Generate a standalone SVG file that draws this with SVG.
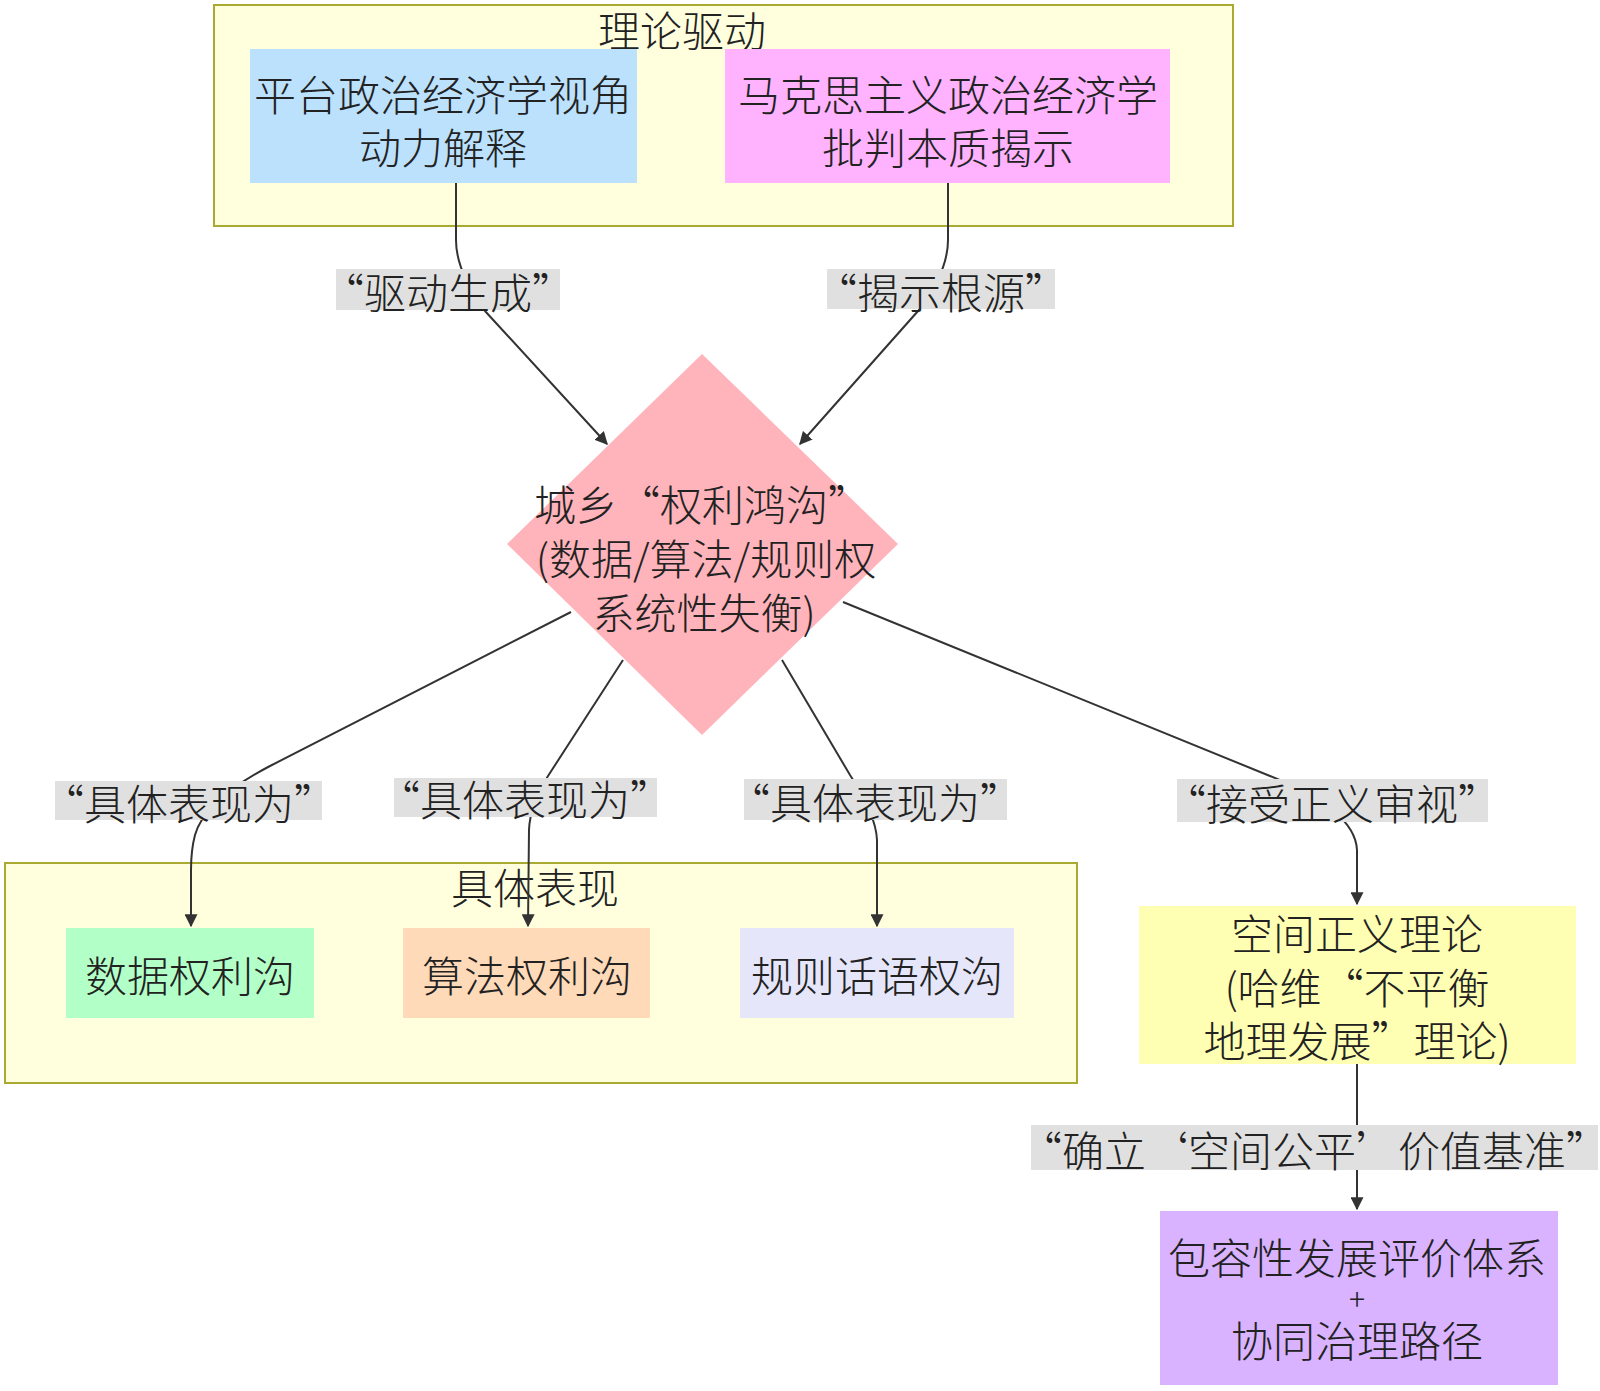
<svg xmlns="http://www.w3.org/2000/svg" width="1600" height="1391" viewBox="0 0 1600 1391">
<defs>
<style>
text{font-family:"Noto Sans CJK SC","Noto Sans",sans-serif;font-size:42px;font-weight:300;fill:#222;text-anchor:middle;dominant-baseline:central}
.plus{font-size:30px}
.cluster{fill:#ffffde;stroke:#aaaa33;stroke-width:2}
.edge{fill:none;stroke:#333;stroke-width:2}
.lbl{fill:#e0e0e0}
</style>
<marker id="arr" viewBox="0 0 10 10" refX="9" refY="5" markerWidth="13" markerHeight="13" markerUnits="userSpaceOnUse" orient="auto">
<path d="M0,0 L10,5 L0,10 z" fill="#333"/>
</marker>
</defs>
<rect width="1600" height="1391" fill="#fff"/>
<g id="cluster-theory">
<rect class="cluster" x="214" y="5" width="1019" height="221"/>
<text x="682" y="28">理论驱动</text>
</g>
<g id="cluster-manifest">
<rect class="cluster" x="5" y="863" width="1072" height="220"/>
<text x="535" y="885">具体表现</text>
</g>
<g id="connectors">
<path class="edge" d="M456,183 L456,240 C456,262 466,285 485,311 L607,444" marker-end="url(#arr)"/>
<path class="edge" d="M948,183 L948,240 C948,262 938,285 918,311 L800,444" marker-end="url(#arr)"/>
<path class="edge" d="M571,612 L270,766 Q205,800 195,835 Q191,850 191,870 L191,926" marker-end="url(#arr)"/>
<path class="edge" d="M623,660 L548,776 Q530,805 529,830 L528,926" marker-end="url(#arr)"/>
<path class="edge" d="M782,660 L850,775 Q876,815 877,840 L877,926" marker-end="url(#arr)"/>
<path class="edge" d="M843,602 L1270,776 Q1355,810 1357,850 L1357,904" marker-end="url(#arr)"/>
<path class="edge" d="M1357,1064 L1357,1209" marker-end="url(#arr)"/>
</g>
<g id="edge-labels">
<rect class="lbl" x="336" y="269" width="224" height="41"/>
<text x="448" y="290">“驱动生成”</text>
<rect class="lbl" x="827" y="269" width="228" height="40"/>
<text x="941" y="290">“揭示根源”</text>
<rect class="lbl" x="55" y="781" width="267" height="39"/>
<text x="189" y="801">“具体表现为”</text>
<rect class="lbl" x="394" y="778" width="263" height="39"/>
<text x="525" y="797">“具体表现为”</text>
<rect class="lbl" x="744" y="779" width="263" height="41"/>
<text x="875" y="800">“具体表现为”</text>
<rect class="lbl" x="1177" y="779" width="311" height="43"/>
<text x="1332" y="801">“接受正义审视”</text>
<rect class="lbl" x="1031" y="1125" width="567" height="45"/>
<text x="1314" y="1148">“确立‘空间公平’价值基准”</text>
</g>
<g id="node-platform">
<rect x="250" y="49" width="387" height="134" fill="#bbe1fd"/>
<text x="443" y="92">平台政治经济学视角</text>
<text x="443" y="145">动力解释</text>
</g>
<g id="node-marx">
<rect x="725" y="49" width="445" height="134" fill="#ffb3ff"/>
<text x="948" y="92">马克思主义政治经济学</text>
<text x="948" y="145">批判本质揭示</text>
</g>
<g id="node-gap">
<polygon points="702,354 898,544 702,735 507,544" fill="#ffb3ba"/>
<text x="702" y="502">城乡“权利鸿沟”</text>
<text x="706" y="556">(数据/算法/规则权</text>
<text x="704" y="610">系统性失衡)</text>
</g>
<g id="node-data">
<rect x="66" y="928" width="248" height="90" fill="#b3ffc8"/>
<text x="190" y="973">数据权利沟</text>
</g>
<g id="node-algo">
<rect x="403" y="928" width="247" height="90" fill="#ffdab9"/>
<text x="527" y="973">算法权利沟</text>
</g>
<g id="node-rule">
<rect x="740" y="928" width="274" height="90" fill="#e6e6fa"/>
<text x="877" y="973">规则话语权沟</text>
</g>
<g id="node-justice">
<rect x="1139" y="906" width="437" height="158" fill="#ffffb3"/>
<text x="1357" y="931">空间正义理论</text>
<text x="1357" y="985">(哈维“不平衡</text>
<text x="1357" y="1038">地理发展”理论)</text>
</g>
<g id="node-path">
<rect x="1160" y="1211" width="398" height="174" fill="#d9b3ff"/>
<text x="1357" y="1255">包容性发展评价体系</text>
<text class="plus" x="1357" y="1297">+</text>
<text x="1357" y="1338">协同治理路径</text>
</g>
</svg>
